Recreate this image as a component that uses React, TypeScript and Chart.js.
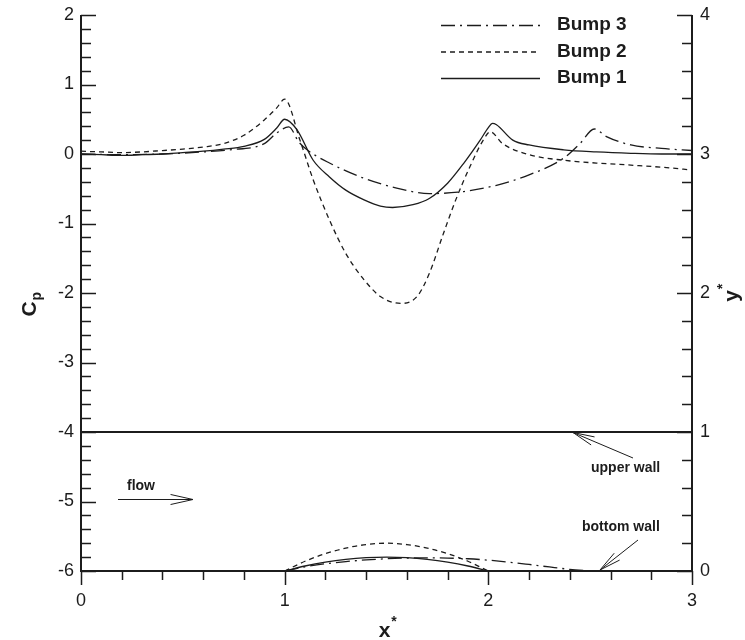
import React, { useEffect, useRef } from "react";
import { Chart, registerables } from "chart.js";
Chart.register(...registerables);

// ---- Pressure coefficient curves (left axis, Cp) ----
const cp1X = [0, 0.1, 0.2, 0.3, 0.4, 0.5, 0.6, 0.7, 0.8, 0.9, 0.96, 1.0, 1.06, 1.14, 1.22, 1.3, 1.39, 1.47, 1.53, 1.63, 1.71, 1.8, 1.88, 1.96, 2.0, 2.02, 2.04, 2.12, 2.2, 2.37, 2.53, 2.7, 2.85, 3.0];
const cp1Y = [0, -0.01, -0.02, -0.01, 0, 0.02, 0.04, 0.07, 0.11, 0.21, 0.37, 0.5, 0.35, -0.09, -0.33, -0.52, -0.66, -0.75, -0.77, -0.73, -0.64, -0.42, -0.13, 0.2, 0.38, 0.44, 0.42, 0.2, 0.13, 0.06, 0.03, 0.01, 0.0, 0.0];

const cp2X = [0, 0.1, 0.2, 0.3, 0.4, 0.5, 0.6, 0.7, 0.8, 0.9, 0.96, 1.0, 1.075, 1.14, 1.22, 1.3, 1.39, 1.47, 1.57, 1.65, 1.71, 1.78, 1.84, 1.91, 1.975, 2.01, 2.07, 2.2, 2.37, 2.53, 2.7, 2.85, 3.0];
const cp2Y = [0.04, 0.03, 0.02, 0.03, 0.05, 0.07, 0.1, 0.15, 0.27, 0.49, 0.66, 0.79, 0.2, -0.37, -0.95, -1.43, -1.81, -2.05, -2.15, -2.05, -1.72, -1.14, -0.66, -0.18, 0.2, 0.32, 0.15, -0.01, -0.09, -0.13, -0.16, -0.19, -0.23];

const cp3X = [0, 0.2, 0.4, 0.6, 0.73, 0.9, 0.96, 1.02, 1.07, 1.11, 1.22, 1.39, 1.55, 1.71, 1.88, 2.04, 2.2, 2.37, 2.45, 2.52, 2.58, 2.7, 2.85, 3.0];
const cp3Y = [0, -0.01, 0.0, 0.03, 0.06, 0.15, 0.3, 0.39, 0.17, 0.06, -0.13, -0.35, -0.49, -0.57, -0.54, -0.45, -0.3, -0.06, 0.15, 0.36, 0.25, 0.13, 0.08, 0.05];

// ---- Bump geometry (right axis, y*) ----
const geo1X = [1.0, 1.1, 1.2, 1.3, 1.4, 1.5, 1.6, 1.7, 1.8, 1.9, 2.0];
const geo1Y = [0, 0.036, 0.064, 0.084, 0.096, 0.1, 0.096, 0.084, 0.064, 0.036, 0];
const geo2X = [1.0, 1.1, 1.2, 1.3, 1.4, 1.5, 1.6, 1.7, 1.8, 1.9, 2.0];
const geo2Y = [0, 0.07, 0.125, 0.165, 0.19, 0.2, 0.19, 0.165, 0.125, 0.07, 0];
const geo3X = [1.0, 1.1, 1.2, 1.3, 1.4, 1.5, 1.6, 1.7, 1.8, 1.9, 2.0, 2.1, 2.2, 2.3, 2.4, 2.5];
const geo3Y = [0, 0.03, 0.052, 0.068, 0.08, 0.088, 0.093, 0.095, 0.093, 0.088, 0.078, 0.064, 0.047, 0.029, 0.012, 0];
const upperWallX = [0, 3];
const upperWallY = [1, 1];

// ---- Axes ----
const xTicks = [0, 1, 2, 3];
const cpTicks = [2, 1, 0, -1, -2, -3, -4, -5, -6];
const yStarTicks = [4, 3, 2, 1, 0];
const seriesNames = ["Bump 1", "Bump 2", "Bump 3"];
const legendOrder = ["Bump 3", "Bump 2", "Bump 1"];

const FONT = "'Liberation Sans', Arial, Helvetica, sans-serif";
const INK = "#1c1c1c";
const DASH2 = [5, 4];
const DASH3 = [14, 5, 2, 5];

const pts = (xs: number[], ys: number[]) => xs.map((x, i) => ({ x, y: ys[i] }));

function arrow(ctx: CanvasRenderingContext2D, tx: number, ty: number, hx: number, hy: number, len: number, spread: number) {
  ctx.beginPath();
  ctx.moveTo(tx, ty);
  ctx.lineTo(hx, hy);
  const ang = Math.atan2(hy - ty, hx - tx);
  for (const s of [-1, 1]) {
    ctx.moveTo(hx, hy);
    ctx.lineTo(hx - len * Math.cos(ang + s * spread), hy - len * Math.sin(ang + s * spread));
  }
  ctx.stroke();
}

const decorPlugin = {
  id: "decor",
  afterDraw(chart: any) {
    const ctx: CanvasRenderingContext2D = chart.ctx;
    const xs = chart.scales.x;
    const yl = chart.scales.y;
    const yr = chart.scales.y1;
    const { left, right, top, bottom } = chart.chartArea;
    ctx.save();
    ctx.strokeStyle = INK;
    ctx.fillStyle = INK;
    ctx.setLineDash([]);

    // axis lines
    ctx.lineWidth = 2;
    ctx.beginPath();
    ctx.moveTo(left, top);
    ctx.lineTo(left, bottom);
    ctx.lineTo(right, bottom);
    ctx.lineTo(right, top);
    ctx.stroke();

    // ticks
    ctx.lineWidth = 1.5;
    ctx.beginPath();
    for (let i = 0; i <= 15; i++) {
      const v = i * 0.2;
      const px = Math.round(xs.getPixelForValue(v)) + 0.5;
      const major = Math.abs(v - Math.round(v)) < 1e-6;
      ctx.moveTo(px, bottom);
      ctx.lineTo(px, bottom + (major ? 14 : 9));
    }
    for (let i = 0; i <= 40; i++) {
      const v = -6 + i * 0.2;
      const py = Math.round(yl.getPixelForValue(v)) + 0.5;
      const major = Math.abs(v - Math.round(v)) < 1e-6;
      ctx.moveTo(left, py);
      ctx.lineTo(left + (major ? 15 : 10), py);
    }
    for (let i = 0; i <= 20; i++) {
      const v = i * 0.2;
      const py = Math.round(yr.getPixelForValue(v)) + 0.5;
      const major = Math.abs(v - Math.round(v)) < 1e-6;
      ctx.moveTo(right, py);
      ctx.lineTo(right - (major ? 15 : 10), py);
    }
    ctx.stroke();

    // tick labels
    ctx.font = `18px ${FONT}`;
    ctx.textBaseline = "middle";
    ctx.textAlign = "right";
    cpTicks.forEach((v) => ctx.fillText(String(v), left - 7, yl.getPixelForValue(v)));
    ctx.textAlign = "left";
    yStarTicks.forEach((v) => ctx.fillText(String(v), right + 8, yr.getPixelForValue(v)));
    ctx.textAlign = "center";
    xTicks.forEach((v) => ctx.fillText(String(v), xs.getPixelForValue(v), bottom + 30));

    // axis titles
    ctx.textAlign = "left";
    ctx.textBaseline = "alphabetic";
    // x*
    ctx.font = `bold 21px ${FONT}`;
    const cx = (left + right) / 2 - 2;
    const xw = ctx.measureText("x").width;
    ctx.fillText("x", cx - xw / 2, bottom + 66);
    ctx.font = `bold 14px ${FONT}`;
    ctx.fillText("*", cx + xw / 2 + 1, bottom + 55);
    // Cp
    ctx.save();
    ctx.translate(36, (top + bottom) / 2 + 12);
    ctx.rotate(-Math.PI / 2);
    ctx.font = `bold 21px ${FONT}`;
    const cw = ctx.measureText("C").width;
    ctx.fillText("C", -cw / 2 - 4, 0);
    ctx.font = `bold 14px ${FONT}`;
    ctx.fillText("p", cw / 2 - 3, 5);
    ctx.restore();
    // y*
    ctx.save();
    ctx.translate(738, (top + bottom) / 2 + 3);
    ctx.rotate(-Math.PI / 2);
    ctx.font = `bold 21px ${FONT}`;
    const yw = ctx.measureText("y").width;
    ctx.fillText("y", -yw / 2, 0);
    ctx.font = `bold 14px ${FONT}`;
    ctx.fillText("*", yw / 2 + 1, -11);
    ctx.restore();

    // legend
    ctx.lineWidth = 1.3;
    ctx.font = `bold 19px ${FONT}`;
    ctx.textBaseline = "middle";
    const dsByLabel: any = {};
    chart.data.datasets.forEach((d: any) => {
      if (d.label && seriesNames.includes(d.label) && !dsByLabel[d.label]) dsByLabel[d.label] = d;
    });
    legendOrder.forEach((name, i) => {
      const d = dsByLabel[name];
      const y = 25 + i * 26.5;
      ctx.setLineDash(d.borderDash || []);
      ctx.beginPath();
      ctx.moveTo(441, y + 0.5);
      ctx.lineTo(540, y + 0.5);
      ctx.stroke();
      ctx.setLineDash([]);
      ctx.fillText(name, 557, y);
    });

    // annotations
    ctx.font = `bold 14px ${FONT}`;
    ctx.textBaseline = "middle";
    ctx.fillText("flow", 127, 486);
    ctx.fillText("upper wall", 591, 468);
    ctx.fillText("bottom wall", 582, 527);
    ctx.lineWidth = 1;
    arrow(ctx, 118, 499.5, 193, 499.5, 23, 0.22);
    arrow(ctx, 633, 458, 573, 432.5, 22, 0.2);
    arrow(ctx, 638, 540, 600, 570, 22, 0.2);

    ctx.restore();
  },
};

export default function App() {
  const ref = useRef<HTMLCanvasElement | null>(null);
  useEffect(() => {
    if (!ref.current) return;
    const common = { pointRadius: 0, borderWidth: 1.3, borderColor: INK, fill: false, showLine: true };
    const chart = new Chart(ref.current, {
      type: "scatter",
      data: {
        datasets: [
          { ...common, label: seriesNames[0], data: pts(cp1X, cp1Y), yAxisID: "y", cubicInterpolationMode: "monotone" },
          { ...common, label: seriesNames[1], data: pts(cp2X, cp2Y), yAxisID: "y", borderDash: DASH2, cubicInterpolationMode: "monotone" },
          { ...common, label: seriesNames[2], data: pts(cp3X, cp3Y), yAxisID: "y", borderDash: DASH3, cubicInterpolationMode: "monotone" },
          { ...common, label: "geo1", data: pts(geo1X, geo1Y), yAxisID: "y1", cubicInterpolationMode: "monotone" },
          { ...common, label: "geo2", data: pts(geo2X, geo2Y), yAxisID: "y1", borderDash: DASH2, cubicInterpolationMode: "monotone" },
          { ...common, label: "geo3", data: pts(geo3X, geo3Y), yAxisID: "y1", borderDash: DASH3, cubicInterpolationMode: "monotone" },
          { ...common, label: "upper wall", data: pts(upperWallX, upperWallY), yAxisID: "y1", borderWidth: 2 },
        ],
      } as any,
      options: {
        responsive: false,
        animation: false,
        layout: { padding: { left: 81, right: 53, top: 15, bottom: 69 } },
        scales: {
          x: { type: "linear", min: 0, max: 3, display: false },
          y: { type: "linear", min: -6, max: 2, display: false, position: "left" },
          y1: { type: "linear", min: 0, max: 4, display: false, position: "right" },
        },
        plugins: { legend: { display: false }, tooltip: { enabled: false } },
      } as any,
      plugins: [decorPlugin],
    });
    return () => chart.destroy();
  }, []);
  return (
    <div style={{ position: "fixed", left: 0, top: 0, width: 745, height: 640, background: "#fff" }}>
      <canvas ref={ref} width={745} height={640} />
    </div>
  );
}
